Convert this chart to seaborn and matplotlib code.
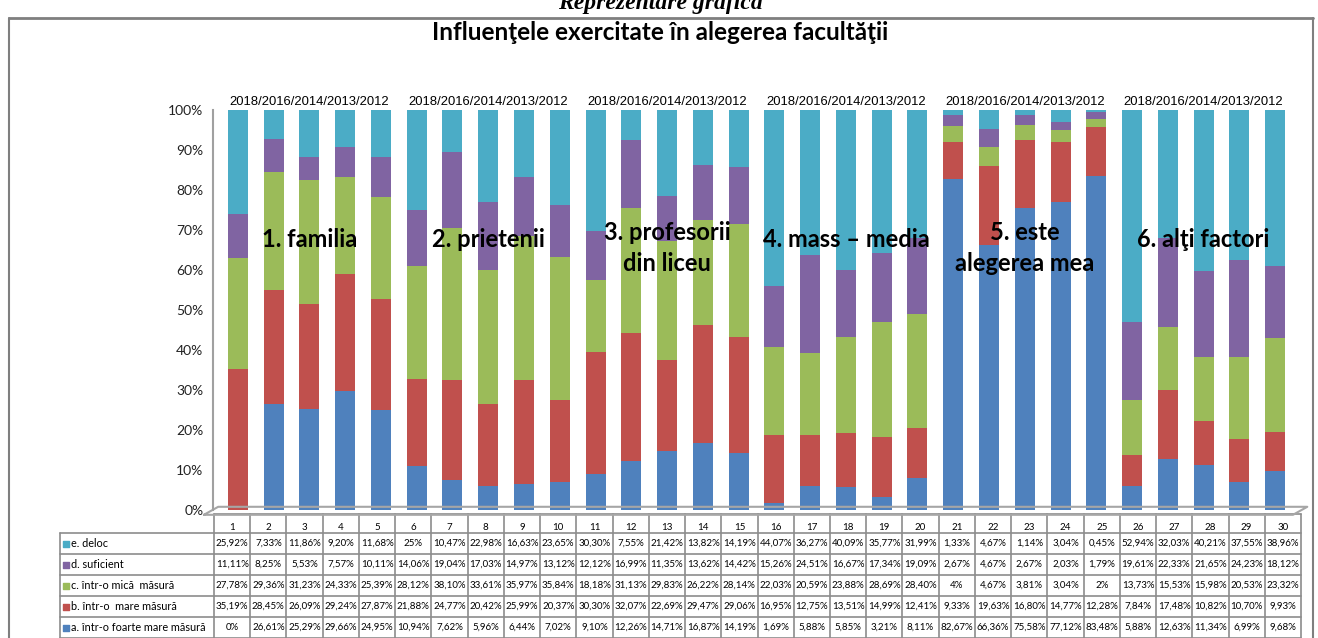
import numpy as np
import pandas as pd
import matplotlib
matplotlib.use("Agg")
import matplotlib.pyplot as plt
from matplotlib.ticker import PercentFormatter
import seaborn as sns

# ---------------- data ----------------
columns = list(range(1, 31))
series_names = ["e. deloc", "d. suficient", "c. într-o mică  măsură",
                "b. într-o  mare măsură", "a. într-o foarte mare măsură"]
e_deloc = [25.92, 7.33, 11.86, 9.20, 11.68, 25, 10.47, 22.98, 16.63, 23.65,
           30.30, 7.55, 21.42, 13.82, 14.19, 44.07, 36.27, 40.09, 35.77, 31.99,
           1.33, 4.67, 1.14, 3.04, 0.45, 52.94, 32.03, 40.21, 37.55, 38.96]
d_suficient = [11.11, 8.25, 5.53, 7.57, 10.11, 14.06, 19.04, 17.03, 14.97, 13.12,
               12.12, 16.99, 11.35, 13.62, 14.42, 15.26, 24.51, 16.67, 17.34, 19.09,
               2.67, 4.67, 2.67, 2.03, 1.79, 19.61, 22.33, 21.65, 24.23, 18.12]
c_mica = [27.78, 29.36, 31.23, 24.33, 25.39, 28.12, 38.10, 33.61, 35.97, 35.84,
          18.18, 31.13, 29.83, 26.22, 28.14, 22.03, 20.59, 23.88, 28.69, 28.40,
          4, 4.67, 3.81, 3.04, 2, 13.73, 15.53, 15.98, 20.53, 23.32]
b_mare = [35.19, 28.45, 26.09, 29.24, 27.87, 21.88, 24.77, 20.42, 25.99, 20.37,
          30.30, 32.07, 22.69, 29.47, 29.06, 16.95, 12.75, 13.51, 14.99, 12.41,
          9.33, 19.63, 16.80, 14.77, 12.28, 7.84, 17.48, 10.82, 10.70, 9.93]
a_foarte = [0, 26.61, 25.29, 29.66, 24.95, 10.94, 7.62, 5.96, 6.44, 7.02,
            9.10, 12.26, 14.71, 16.87, 14.19, 1.69, 5.88, 5.85, 3.21, 8.11,
            82.67, 66.36, 75.58, 77.12, 83.48, 5.88, 12.63, 11.34, 6.99, 9.68]
series_values = [e_deloc, d_suficient, c_mica, b_mare, a_foarte]
series_colors = ["#4BACC6", "#8064A2", "#9BBB59", "#C0504D", "#4F81BD"]

group_labels = ["1. familia", "2. prietenii", "3. profesorii\ndin liceu",
                "4. mass – media", "5. este\nalegerea mea", "6. alţi factori"]
year_label = "2018/2016/2014/2013/2012"
title = "Influenţele exercitate în alegerea facultăţii"
heading = "Reprezentare grafică"
y_ticks = [0, 0.1, 0.2, 0.3, 0.4, 0.5, 0.6, 0.7, 0.8, 0.9, 1.0]

def fmt(v):
    s = f"{v:.0f}" if v == int(v) else f"{v:.2f}"
    return s.replace(".", ",") + "%"

# ---------------- figure ----------------
sns.set_theme(style="white")
plt.rcParams["font.family"] = ["Lato", "DejaVu Sans"]

W, H = 1318, 638
fig = plt.figure(figsize=(W / 100, H / 100), dpi=100)

# background pixel-coordinate axes for frame & table
bg = fig.add_axes([0, 0, 1, 1])
bg.set_xlim(0, W)
bg.set_ylim(H, 0)
bg.axis("off")

# outer frame of chart
bg.plot([9, 1313], [18, 18], color="#7f7f7f", lw=2)
bg.plot([9, 9], [18, H], color="#7f7f7f", lw=1.5)
bg.plot([1313, 1313], [18, H], color="#7f7f7f", lw=1.5)
# heading above the frame (partially cut off at the top edge, as in the source)
bg.text(660, 4, heading, ha="center", va="center",
        fontsize=17, fontstyle="italic", fontweight="bold",
        family=["Liberation Serif", "DejaVu Serif"], color="black")

bg.text(660, 32, title, ha="center", va="center", fontsize=17.5,
        fontweight="bold", color="black")

# ---------------- main chart ----------------
left, right = 220, 1293
top, bottom = 110, 510
ax = fig.add_axes([left / W, 1 - bottom / H, (right - left) / W, (bottom - top) / H])

rows = []
for name, vals in zip(series_names, series_values):
    for c, v in zip(columns, vals):
        rows.append({"col": c, "serie": name, "val": v})
df = pd.DataFrame(rows)

sns.histplot(data=df, x="col", hue="serie", weights="val", hue_order=series_names,
             multiple="fill", discrete=True, shrink=0.56,
             palette=dict(zip(series_names, series_colors)),
             alpha=1, linewidth=0, legend=False, ax=ax)

ax.set_xlim(0.5, 30.5)
ax.set_ylim(0, 1.0)
ax.set_yticks(y_ticks)
ax.yaxis.set_major_formatter(PercentFormatter(1.0, decimals=0))
ax.tick_params(axis="y", labelsize=10, length=0, pad=7, colors="#222222")
ax.set_xticks([])
ax.set_xlabel("")
ax.set_ylabel("")
for s in ["top", "right", "bottom"]:
    ax.spines[s].set_visible(False)
ax.spines["left"].set_color("#a0a0a0")
ax.spines["left"].set_linewidth(1.5)
ax.spines["left"].set_position(("outward", 5))
ax.set_facecolor("none")

# 3D-ish floor
floor_x = [0.05, 30.5, 30.9, 0.45, 0.05]
floor_y = [-0.012, -0.012, 0.008, 0.008, -0.012]
ax.plot(floor_x, floor_y, color="#a6a6a6", lw=1.5, clip_on=False)

# group labels and year labels
centers = [3, 8, 13, 18, 23, 28]
for cx, lab in zip(centers, group_labels):
    ax.text(cx, 0.675 if "\n" not in lab else 0.655, lab, ha="center", va="center",
            fontsize=17, fontweight="bold", color="black", linespacing=1.45)
    ax.text(cx, 1.005, year_label, ha="center", va="bottom", fontsize=9.4,
            color="black", family=["Liberation Sans Narrow", "Liberation Sans", "DejaVu Sans"])

# ---------------- data table ----------------
lc = "#8c8c8c"
tab_l, lab_r, tab_r = 60, 214, 1301
hdr_t = 514
row_h = 21
hdr_b = 533
col_w = (tab_r - lab_r) / len(columns)

bg.plot([lab_r, tab_r], [hdr_t, hdr_t], color=lc, lw=1.2)
for i in range(len(columns) + 1):
    x = lab_r + i * col_w
    bg.plot([x, x], [hdr_t, H], color=lc, lw=1.2)
for i, c in enumerate(columns):
    bg.text(lab_r + (i + 0.5) * col_w, hdr_b - 6, str(c), ha="center", va="center",
            fontsize=7, color="black")
for r in range(len(series_names) + 1):
    y = hdr_b + r * row_h
    bg.plot([tab_l, tab_r], [y, y], color=lc, lw=1.2)
bg.plot([tab_l, tab_l], [hdr_b, H], color=lc, lw=1.2)
for r, (name, vals, colr) in enumerate(zip(series_names, series_values, series_colors)):
    yc = hdr_b + (r + 0.5) * row_h
    bg.scatter([66], [yc], marker="s", s=16, color=colr, zorder=3)
    bg.text(71, yc, name, ha="left", va="center", fontsize=7.8, color="black")
    for i, v in enumerate(vals):
        bg.text(lab_r + (i + 0.5) * col_w, yc, fmt(v), ha="center", va="center",
                fontsize=7, color="black")

fig.savefig("out.png", dpi=100)
